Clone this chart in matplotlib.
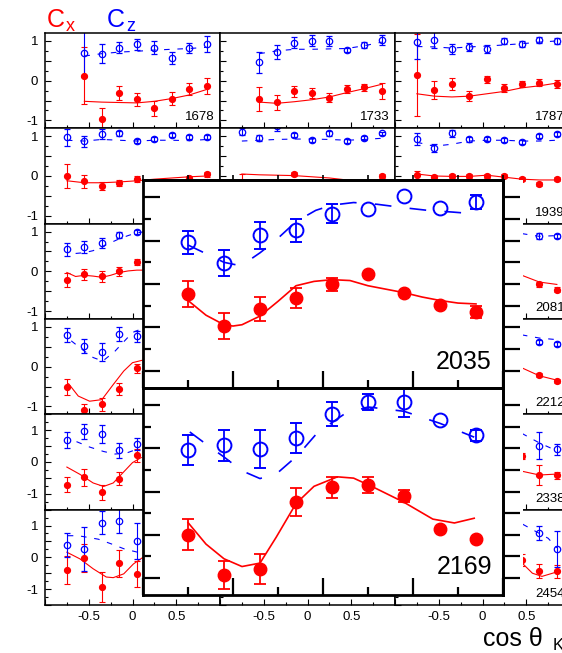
import numpy as np
import matplotlib.pyplot as plt
from matplotlib.ticker import MultipleLocator, FixedLocator, FuncFormatter

plt.rcParams['font.family'] = ['Liberation Sans', 'DejaVu Sans']
plt.rcParams['axes.unicode_minus'] = False

nan = np.nan
bins = [-0.75, -0.55, -0.35, -0.15, 0.05, 0.25, 0.45, 0.65, 0.85]

# ---- small panels (nan = not visible) ----
cx_1678 = [nan, 0.12, -0.96, -0.31, -0.47, -0.70, -0.45, -0.21, -0.13]
dcx_1678 = [nan, 0.72, 0.28, 0.18, 0.17, 0.19, 0.155, 0.16, 0.2]
cz_1678 = [nan, 0.70, 0.68, 0.83, 0.92, 0.83, 0.56, 0.83, 0.92]
dcz_1678 = [nan, 0.6, 0.24, 0.14, 0.14, 0.16, 0.15, 0.13, 0.2]
fx_1678 = [nan, -0.52, -0.54, -0.55, -0.56, -0.52, -0.45, -0.36, -0.22]
fz_1678 = [nan, 0.62, 0.68, 0.72, 0.74, 0.77, 0.79, 0.81, 0.84]

cx_1733 = [nan, -0.46, -0.54, -0.27, -0.31, -0.43, -0.22, -0.17, -0.27]
dcx_1733 = [nan, 0.31, 0.19, 0.14, 0.13, 0.11, 0.1, 0.09, 0.2]
cz_1733 = [nan, 0.46, 0.73, 0.96, 1.01, 1.0, 0.77, 0.9, 1.02]
dcz_1733 = [nan, 0.27, 0.18, 0.13, 0.13, 0.13, 0.05, 0.07, 0.13]
fx_1733 = [nan, -0.54, -0.57, -0.53, -0.48, -0.41, -0.30, -0.20, -0.09]
fz_1733 = [nan, 0.68, 0.75, 0.79, 0.79, 0.8, 0.81, 0.88, 0.97]

cx_1787 = [0.14, -0.23, -0.08, -0.39, 0.03, -0.18, -0.08, -0.05, -0.09]
dcx_1787 = [1.03, 0.23, 0.15, 0.13, 0.1, 0.1, 0.08, 0.08, 0.1]
cz_1787 = [0.98, 1.02, 0.79, 0.85, 0.79, 1.0, 0.92, 1.02, 1.0]
dcz_1787 = [0.44, 0.2, 0.13, 0.11, 0.1, 0.08, 0.07, 0.07, 0.08]
fx_1787 = [-0.33, -0.39, -0.41, -0.39, -0.33, -0.27, -0.18, -0.13, -0.06]
fz_1787 = [0.86, 0.85, 0.82, 0.85, 0.87, 0.9, 0.93, 0.97, 1.0]

cx_r2c1 = [0.0, -0.13, -0.25, -0.17, -0.07, nan, nan, -0.05, 0.04]
dcx_r2c1 = [0.31, 0.16, 0.11, 0.08, 0.07, nan, nan, 0.06, 0.06]
cz_r2c1 = [0.97, 0.87, 1.05, 1.07, 0.87, 0.94, 1.02, 0.97, 0.99]
dcz_r2c1 = [0.21, 0.14, 0.13, 0.06, 0.05, 0.05, 0.05, 0.05, 0.05]
fx_r2c1 = [-0.12, -0.17, -0.17, -0.15, -0.12, -0.08, -0.05, -0.02, 0.0]
fz_r2c1 = [0.9, 0.88, 0.92, 0.9, 0.88, 0.9, 0.9, 0.89, 0.92]

cx_r2c2 = [-0.15, nan, nan, 0.04, nan, nan, nan, nan, 0.0]
dcx_r2c2 = [0.19, nan, nan, 0.05, nan, nan, nan, nan, 0.05]
cz_r2c2 = [1.12, 0.95, 1.25, 1.03, 0.9, 1.07, 0.88, 0.95, 1.07]
dcz_r2c2 = [0.1, 0.08, 0.12, 0.06, 0.05, 0.06, 0.05, 0.05, 0.05]
fx_r2c2 = [0.05, 0.03, 0.02, 0.01, -0.02, -0.05, -0.1, -0.12, -0.1]
fz_r2c2 = [0.88, 0.9, 0.92, 0.93, 0.93, 0.92, 0.9, 0.92, 0.95]

cx_1939 = [0.02, -0.03, 0.0, 0.0, 0.0, 0.0, -0.07, -0.19, -0.08]
dcx_1939 = [0.1, 0.05, 0.05, 0.05, 0.05, 0.05, 0.05, 0.05, 0.05]
cz_1939 = [0.92, 0.71, 1.07, 0.92, 0.92, 0.9, 0.86, 1.0, 1.06]
dcz_1939 = [0.15, 0.1, 0.08, 0.07, 0.05, 0.05, 0.05, 0.05, 0.05]
fx_1939 = [0.05, 0.0, -0.01, -0.01, 0.02, -0.03, -0.08, -0.1, -0.1]
fz_1939 = [0.85, 0.75, 0.8, 0.88, 0.9, 0.9, 0.88, 0.88, 0.9]

cx_r3c1 = [-0.21, -0.07, -0.13, 0.0, 0.23, nan, nan, nan, nan]
dcx_r3c1 = [0.18, 0.14, 0.13, 0.12, 0.08, nan, nan, nan, nan]
cz_r3c1 = [0.55, 0.61, 0.72, 0.91, 0.99, nan, nan, nan, nan]
dcz_r3c1 = [0.16, 0.15, 0.13, 0.07, 0.06, nan, nan, nan, nan]
fxx_r3c1 = [-0.75, -0.65, -0.55, -0.45, -0.35, -0.25, -0.15, -0.05, 0.05, 0.15]
fx_r3c1 = [-0.03, -0.13, -0.1, -0.12, -0.15, -0.1, -0.03, 0.01, 0.03, 0.03]
fzx_r3c1 = [-0.65, -0.55, -0.45, -0.35, -0.25, -0.15, -0.05, 0.05, 0.15]
fz_r3c1 = [0.45, 0.47, 0.52, 0.62, 0.72, 0.82, 0.9, 0.97, 1.0]

cx_2081 = [nan, nan, nan, nan, nan, nan, nan, -0.33, -0.46]
dcx_2081 = [nan, nan, nan, nan, nan, nan, nan, 0.06, 0.06]
cz_2081 = [nan, nan, nan, nan, nan, nan, nan, 0.89, 0.89]
dcz_2081 = [nan, nan, nan, nan, nan, nan, nan, 0.08, 0.06]
fxx_2081 = [0.45, 0.65, 0.85]
fx_2081 = [-0.1, -0.27, -0.33]
fz_2081 = [0.95, 0.88, 0.9]

cx_r4c1 = [-0.51, -1.08, -0.95, -0.56, -0.04, nan, nan, nan, nan]
dcx_r4c1 = [0.2, 0.15, 0.16, 0.15, 0.11, nan, nan, nan, nan]
cz_r4c1 = [0.80, 0.52, 0.37, 0.82, 0.76, nan, nan, nan, nan]
dcz_r4c1 = [0.18, 0.18, 0.22, 0.18, 0.15, nan, nan, nan, nan]
fxx_r4c1 = [-0.73, -0.62, -0.49, -0.35, -0.22, -0.1, 0.0, 0.11]
fx_r4c1 = [-0.43, -0.74, -0.87, -0.83, -0.45, -0.11, 0.1, 0.16]
fzx_r4c1 = [-0.7, -0.58, -0.45, -0.34, -0.2, -0.09, 0.0, 0.1]
fz_r4c1 = [0.65, 0.44, 0.23, 0.14, 0.39, 0.65, 0.86, 0.95]

cx_2212 = [nan, nan, nan, nan, nan, nan, nan, -0.21, -0.36]
dcx_2212 = [nan, nan, nan, nan, nan, nan, nan, 0.05, 0.05]
cz_2212 = [nan, nan, nan, nan, nan, nan, nan, 0.62, 0.57]
dcz_2212 = [nan, nan, nan, nan, nan, nan, nan, 0.06, 0.06]
fxx_2212 = [0.45, 0.65, 0.85]
fx_2212 = [-0.03, -0.23, -0.34]
fz_2212 = [0.8, 0.72, 0.68]

cx_r5c1 = [-0.71, -0.48, -0.96, -0.52, 0.21, nan, nan, nan, nan]
dcx_r5c1 = [0.24, 0.27, 0.25, 0.22, 0.2, nan, nan, nan, nan]
cz_r5c1 = [0.69, 0.97, 0.88, 0.37, 0.58, nan, nan, nan, nan]
dcz_r5c1 = [0.24, 0.24, 0.28, 0.24, 0.19, nan, nan, nan, nan]
fxx_r5c1 = [-0.75, -0.6, -0.45, -0.33, -0.22, -0.11, 0.0, 0.1]
fx_r5c1 = [-0.16, -0.39, -0.66, -0.77, -0.66, -0.34, -0.02, 0.14]
fzx_r5c1 = [-0.64, -0.49, -0.33, -0.2, -0.07, 0.05]
fz_r5c1 = [0.64, 0.47, 0.33, 0.25, 0.28, 0.4]

cx_2338 = [nan, nan, nan, nan, nan, nan, 0.19, -0.4, -0.42]
dcx_2338 = [nan, nan, nan, nan, nan, nan, 0.1, 0.32, 0.1]
cz_2338 = [nan, nan, nan, nan, nan, nan, nan, 0.51, 0.4]
dcz_2338 = [nan, nan, nan, nan, nan, nan, nan, 0.43, 0.17]
fxx_2338 = [0.45, 0.65, 0.85]
fx_2338 = [-0.29, -0.41, -0.38]
fz_2338 = [0.9, 0.6, 0.35]

cx_r6c1 = [-0.40, -0.02, -0.94, -0.19, -0.52, nan, nan, nan, nan]
dcx_r6c1 = [0.44, 0.44, 0.47, 0.42, 0.4, nan, nan, nan, nan]
cz_r6c1 = [0.39, 0.26, 1.09, 1.15, 0.52, nan, nan, nan, nan]
dcz_r6c1 = [0.39, 0.68, 0.37, 0.37, 0.57, nan, nan, nan, nan]
fxx_r6c1 = [-0.75, -0.6, -0.45, -0.3, -0.22, -0.1, 0.01, 0.12]
fx_r6c1 = [0.16, -0.05, -0.36, -0.62, -0.64, -0.52, -0.21, 0.0]
fzx_r6c1 = [-0.74, -0.62, -0.39, -0.24, -0.09, 0.06]
fz_r6c1 = [0.68, 0.68, 0.57, 0.42, 0.26, 0.16]

cx_2454 = [nan, nan, nan, nan, nan, nan, -0.08, -0.44, -0.44]
dcx_2454 = [nan, nan, nan, nan, nan, nan, 0.2, 0.22, 0.2]
cz_2454 = [nan, nan, nan, nan, nan, nan, nan, 0.78, 0.26]
dcz_2454 = [nan, nan, nan, nan, nan, nan, nan, 0.22, 0.57]
fxx_2454 = [0.46, 0.57, 0.68, 0.85]
fx_2454 = [-0.2, -0.5, -0.6, -0.46]
fzx_2454 = [0.46, 0.75, 0.85]
fz_2454 = [1.04, 0.6, 0.3]

# ---- magnified panels ----
cx_2035 = [-0.11, -0.49, -0.29, -0.16, 0.0, 0.12, -0.10, -0.245, -0.32]
dcx_2035 = [0.15, 0.15, 0.14, 0.115, 0.075, nan, nan, nan, 0.07]
cz_2035 = [0.48, 0.24, 0.56, 0.62, 0.81, 0.86, 1.02, 0.88, 0.95]
dcz_2035 = [0.13, 0.15, 0.16, 0.13, 0.11, nan, nan, nan, 0.08]
fxx_2035 = [-0.75, -0.65, -0.55, -0.5, -0.45, -0.35, -0.25, -0.15, -0.05, 0.05,
            0.15, 0.25, 0.35, 0.45, 0.55, 0.65, 0.75, 0.85]
fx_2035 = [-0.19, -0.36, -0.47, -0.485, -0.47, -0.37, -0.2, -0.02, 0.03, 0.05,
           0.04, -0.02, -0.06, -0.1, -0.15, -0.19, -0.22, -0.23]
fzx_2035 = [-0.75, -0.65, -0.55, -0.48, -0.42, -0.35, -0.27, -0.15, -0.04, 0.05,
            0.17, 0.3, 0.45, 0.58, 0.72, 0.84]
fz_2035 = [0.45, 0.35, 0.25, 0.22, 0.26, 0.36, 0.49, 0.72, 0.85, 0.91,
           0.94, 0.92, 0.88, 0.85, 0.83, 0.81]

cx_2169 = [-0.5, -0.965, -0.90, -0.125, 0.05, 0.078, -0.047, -0.43, -0.55]
dcx_2169 = [0.18, 0.165, 0.17, 0.16, 0.12, 0.09, 0.07, nan, nan]
cz_2169 = [0.477, 0.535, 0.488, 0.62, 0.90, 1.04, 1.04, 0.83, 0.65]
dcz_2169 = [0.175, 0.18, 0.22, 0.17, 0.14, 0.09, 0.175, nan, 0.06]
fxx_2169 = [-0.75, -0.65, -0.55, -0.45, -0.35, -0.26, -0.15, -0.05, 0.08, 0.17,
            0.28, 0.45, 0.61, 0.73, 0.84]
fx_2169 = [-0.36, -0.61, -0.78, -0.87, -0.83, -0.53, -0.14, 0.06, 0.17, 0.155,
           0.05, -0.125, -0.32, -0.365, -0.31]
fzx_2169 = [-0.74, -0.65, -0.55, -0.45, -0.35, -0.25, -0.14, -0.04, 0.05, 0.12,
            0.25, 0.45, 0.65, 0.84]
fz_2169 = [0.69, 0.55, 0.4, 0.24, 0.15, 0.22, 0.42, 0.66, 0.8, 0.9,
           0.98, 0.93, 0.79, 0.63]

# (row, col, label, cx, dcx, cz, dcz, fit-x grid, fit Cx, fit-z grid, fit Cz)
panels = [
    (0, 0, '1678', cx_1678, dcx_1678, cz_1678, dcz_1678, bins, fx_1678, bins, fz_1678),
    (0, 1, '1733', cx_1733, dcx_1733, cz_1733, dcz_1733, bins, fx_1733, bins, fz_1733),
    (0, 2, '1787', cx_1787, dcx_1787, cz_1787, dcz_1787, bins, fx_1787, bins, fz_1787),
    (1, 0, '', cx_r2c1, dcx_r2c1, cz_r2c1, dcz_r2c1, bins, fx_r2c1, bins, fz_r2c1),
    (1, 1, '', cx_r2c2, dcx_r2c2, cz_r2c2, dcz_r2c2, bins, fx_r2c2, bins, fz_r2c2),
    (1, 2, '1939', cx_1939, dcx_1939, cz_1939, dcz_1939, bins, fx_1939, bins, fz_1939),
    (2, 0, '', cx_r3c1, dcx_r3c1, cz_r3c1, dcz_r3c1, fxx_r3c1, fx_r3c1, fzx_r3c1, fz_r3c1),
    (2, 2, '2081', cx_2081, dcx_2081, cz_2081, dcz_2081, fxx_2081, fx_2081, fxx_2081, fz_2081),
    (3, 0, '', cx_r4c1, dcx_r4c1, cz_r4c1, dcz_r4c1, fxx_r4c1, fx_r4c1, fzx_r4c1, fz_r4c1),
    (3, 2, '2212', cx_2212, dcx_2212, cz_2212, dcz_2212, fxx_2212, fx_2212, fxx_2212, fz_2212),
    (4, 0, '', cx_r5c1, dcx_r5c1, cz_r5c1, dcz_r5c1, fxx_r5c1, fx_r5c1, fzx_r5c1, fz_r5c1),
    (4, 2, '2338', cx_2338, dcx_2338, cz_2338, dcz_2338, fxx_2338, fx_2338, fxx_2338, fz_2338),
    (5, 0, '', cx_r6c1, dcx_r6c1, cz_r6c1, dcz_r6c1, fxx_r6c1, fx_r6c1, fzx_r6c1, fz_r6c1),
    (5, 2, '2454', cx_2454, dcx_2454, cz_2454, dcz_2454, fxx_2454, fx_2454, fzx_2454, fz_2454),
]

W, H = 562, 653
fig = plt.figure(figsize=(W / 100, H / 100), dpi=100)


def box(x0, y0, x1, y1, **kw):
    # pixel box measured from the top-left corner of the picture
    return fig.add_axes([x0 / W, 1 - y1 / H, (x1 - x0) / W, (y1 - y0) / H], **kw)


def int_only(v, pos):
    return f'{v:g}' if abs(v - round(v)) < 1e-6 else ''


def half_only(v, pos):
    return f'{v:g}' if abs(v) < 0.9 else ''


left, top, cw, rh = 45, 33, 175, 95.33
grid = {}
for r in range(6):
    for c in range(3):
        x0, y0 = left + c * cw, top + r * rh
        ax = box(x0, y0, x0 + cw, y0 + rh)
        ax.set_zorder(0)
        lim = 1.2 if r < 4 else 1.5
        ax.set_xlim(-1, 1)
        ax.set_ylim(-lim, lim)
        ax.xaxis.set_major_locator(MultipleLocator(0.5))
        ax.xaxis.set_minor_locator(MultipleLocator(0.25))
        ax.yaxis.set_major_locator(MultipleLocator(0.5))
        ax.yaxis.set_minor_locator(MultipleLocator(0.25))
        ax.tick_params(which='both', direction='in', width=0.8, top=False, right=False,
                       labelsize=9.5)
        ax.tick_params(which='major', length=4.5)
        ax.tick_params(which='minor', length=2.5)
        ax.tick_params(axis='y', pad=5)
        ax.tick_params(axis='x', pad=4)
        ax.yaxis.set_major_formatter(FuncFormatter(int_only))
        ax.xaxis.set_major_formatter(FuncFormatter(half_only))
        if c > 0:
            ax.tick_params(axis='y', labelleft=False)
        if r < 5:
            ax.tick_params(axis='x', labelbottom=False)
        for s in ax.spines.values():
            s.set_linewidth(1.1)
        grid[(r, c)] = ax

for (r, c, lab, cx, dcx, cz, dcz, fxx, fx, fzx, fz) in panels:
    ax = grid[(r, c)]
    ax.plot(fxx, fx, color='red', lw=0.8)
    ax.plot(fzx, fz, color='blue', lw=0.8, ls=(0, (5, 7)))
    ax.errorbar(bins, cx, yerr=dcx, fmt='o', color='red', ms=4.2,
                elinewidth=0.8, capsize=2.5, capthick=0.8)
    ax.errorbar(bins, cz, yerr=dcz, fmt='o', mfc='none', mec='blue', ecolor='blue',
                ms=4.6, mew=0.9, elinewidth=0.8, capsize=2.5, capthick=0.8)
    if lab:
        ax.text(0.971, 0.085, lab, transform=ax.transAxes, ha='right', va='baseline',
                fontsize=9.5)

# white backing of the magnified panels
pad = box(143, 180, 523, 595)
pad.set_zorder(1)
pad.set_xticks([])
pad.set_yticks([])
for s in pad.spines.values():
    s.set_visible(False)
pad.set_facecolor('white')

insets = [
    (180, 388, '2035', cx_2035, dcx_2035, cz_2035, dcz_2035, fxx_2035, fx_2035, fzx_2035, fz_2035, 0.091),
    (388, 595, '2169', cx_2169, dcx_2169, cz_2169, dcz_2169, fxx_2169, fx_2169, fzx_2169, fz_2169, 0.10),
]
for (y0, y1, lab, cx, dcx, cz, dcz, fxx, fx, fzx, fz, ly) in insets:
    ax = box(143, y0, 503, y1)
    ax.set_zorder(2)
    ax.set_xlim(-1, 1)
    ax.set_ylim(-1.2, 1.2)
    ax.xaxis.set_major_locator(MultipleLocator(0.5))
    ax.xaxis.set_minor_locator(MultipleLocator(0.25))
    ax.yaxis.set_major_locator(MultipleLocator(0.5))
    ax.yaxis.set_minor_locator(MultipleLocator(0.25))
    ax.tick_params(which='both', direction='in', width=1.6, labelleft=False,
                   labelbottom=False, top=False, right=False)
    ax.tick_params(which='major', length=12)
    ax.tick_params(which='minor', length=6)
    for s in ax.spines.values():
        s.set_linewidth(2.0)
    sec = ax.secondary_yaxis('right')
    sec.yaxis.set_major_locator(MultipleLocator(0.25))
    sec.tick_params(direction='out', length=12, width=1.6, labelright=False)
    sec.spines['right'].set_linewidth(2.0)
    sect = ax.secondary_xaxis('top')
    sect.xaxis.set_major_locator(MultipleLocator(0.25))
    sect.tick_params(direction='out', length=3.5, width=1.2, labeltop=False)
    sect.spines['top'].set_linewidth(2.0)

    ax.plot(fxx, fx, color='red', lw=1.2)
    ax.plot(fzx, fz, color='blue', lw=1.2, ls=(0, (10, 11)))
    ax.errorbar(bins, cx, yerr=dcx, fmt='o', color='red', ms=9,
                elinewidth=1.3, capsize=4.5, capthick=1.3)
    ax.errorbar(bins, cz, yerr=dcz, fmt='o', mfc='none', mec='blue', ecolor='blue',
                ms=10, mew=1.4, elinewidth=1.3, capsize=4.5, capthick=1.3)
    ax.text(0.969, ly, lab, transform=ax.transAxes, ha='right', va='baseline',
            fontsize=18)

# legend-like letters and axis title
fig.text(47 / W, 1 - 27 / H, 'C', color='red', fontsize=18, va='baseline')
fig.text(66 / W, 1 - 31 / H, 'x', color='red', fontsize=13, va='baseline')
fig.text(107 / W, 1 - 27 / H, 'C', color='blue', fontsize=18, va='baseline')
fig.text(126 / W, 1 - 31 / H, 'z', color='blue', fontsize=13, va='baseline')
fig.text(483 / W, 1 - 646 / H, 'cos θ', fontsize=18, va='baseline')
fig.text(553 / W, 1 - 650 / H, 'K', fontsize=12, va='baseline')

fig.savefig('out.png', dpi=100)
